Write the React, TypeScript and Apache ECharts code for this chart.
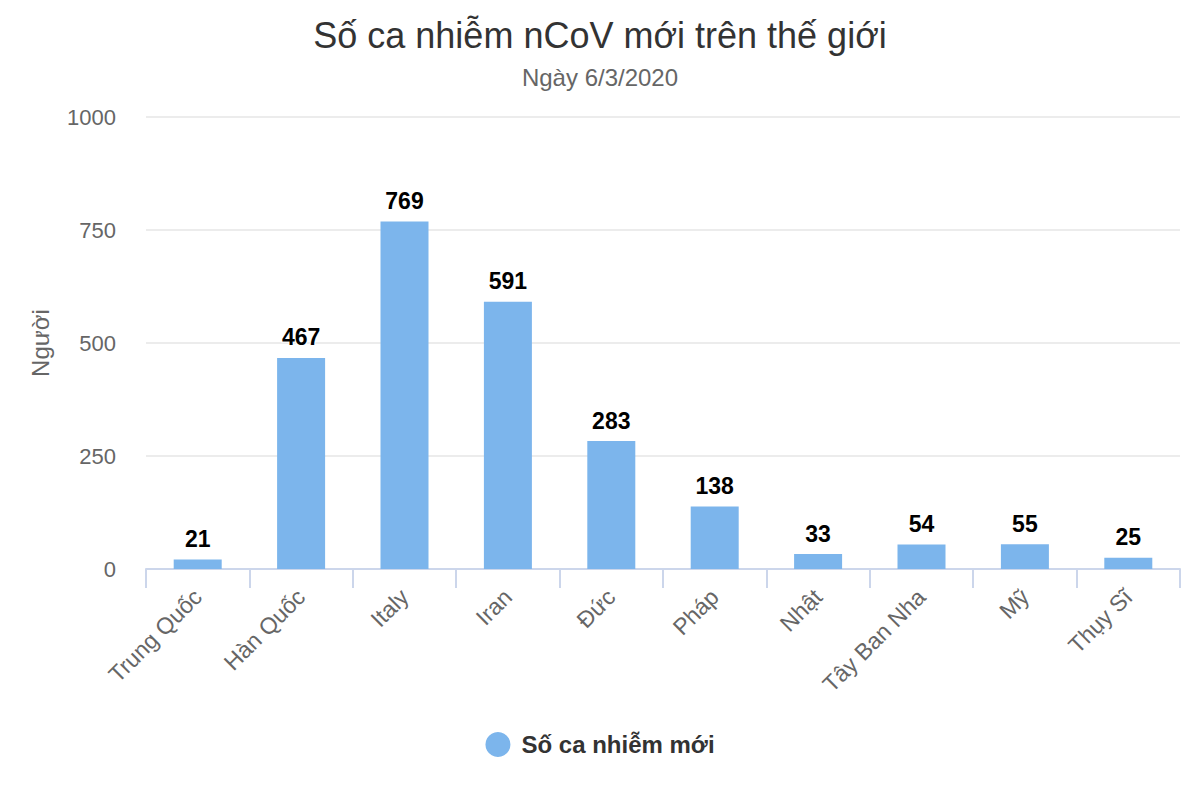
import React, { useEffect, useRef } from "react";
import * as echarts from "echarts";

const categories = ["Trung Quốc", "Hàn Quốc", "Italy", "Iran", "Đức", "Pháp", "Nhật", "Tây Ban Nha", "Mỹ", "Thụy Sĩ"];
const values = [21, 467, 769, 591, 283, 138, 33, 54, 55, 25];
const seriesName = "Số ca nhiễm mới";
const titleText = "Số ca nhiễm nCoV mới trên thế giới";
const subtitleText = "Ngày 6/3/2020";
const yAxisName = "Người";

const FONT = "'Liberation Sans', Arial, Helvetica, sans-serif";

export default function App() {
  const ref = useRef<HTMLDivElement>(null);
  useEffect(() => {
    if (!ref.current) return;
    const chart = echarts.init(ref.current, undefined, { renderer: "svg" });
    chart.setOption({
      animation: false,
      textStyle: { fontFamily: FONT },
      title: {
        text: titleText,
        subtext: subtitleText,
        left: "center",
        top: 12,
        itemGap: 12,
        textStyle: { fontSize: 36, fontWeight: "normal", color: "#333333", fontFamily: FONT },
        subtextStyle: { fontSize: 24, color: "#666666", fontFamily: FONT },
      },
      legend: {
        bottom: 38,
        left: "center",
        icon: "circle",
        itemWidth: 25,
        itemHeight: 25,
        itemGap: 10,
        textStyle: { fontSize: 24, fontWeight: "bold", color: "#333333", fontFamily: FONT, padding: [0, 0, 0, 6] },
        data: [seriesName],
      },
      grid: { left: 146, right: 20, top: 117, bottom: 231, containLabel: false },
      xAxis: {
        type: "category",
        data: categories,
        axisLine: { lineStyle: { color: "#ccd6eb", width: 2 } },
        axisTick: { show: true, length: 19, lineStyle: { color: "#ccd6eb", width: 2 }, alignWithLabel: false },
        axisLabel: { rotate: 45, fontSize: 23, color: "#666666", margin: 24, fontFamily: FONT, interval: 0 },
      },
      yAxis: {
        type: "value",
        min: 0,
        max: 1000,
        interval: 250,
        name: yAxisName,
        nameLocation: "middle",
        nameGap: 94,
        nameRotate: 90,
        nameTextStyle: { fontSize: 24, color: "#666666", fontFamily: FONT },
        axisLine: { show: false },
        axisTick: { show: false },
        axisLabel: { fontSize: 22, color: "#666666", margin: 30, fontFamily: FONT, formatter: (v: number) => String(v) },
        splitLine: { lineStyle: { color: "#e6e6e6", width: 1.5 } },
      },
      series: [
        {
          name: seriesName,
          type: "bar",
          data: values,
          barWidth: 48,
          itemStyle: { color: "#7cb5ec" },
          label: {
            show: true,
            position: "top",
            distance: 9,
            fontSize: 23,
            fontWeight: "bold",
            color: "#000000",
            fontFamily: FONT,
            textBorderColor: "#ffffff",
            textBorderWidth: 2,
          },
        },
      ],
    });
    return () => chart.dispose();
  }, []);
  return <div ref={ref} style={{ width: 1200, height: 800, margin: -8 }} />;
}
